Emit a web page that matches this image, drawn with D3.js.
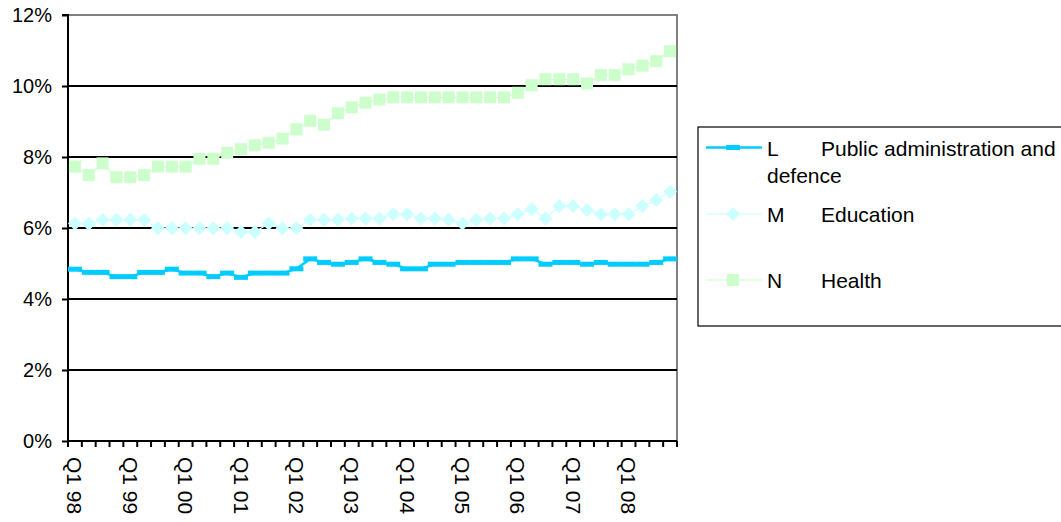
<!DOCTYPE html>
<html>
<head>
<meta charset="utf-8">
<script src="https://cdn.jsdelivr.net/npm/d3@7"></script>
<style>
  html, body { margin: 0; padding: 0; background: #fff; }
  svg { display: block; }
  text { font-family: "Liberation Sans", Arial, sans-serif; fill: #000; }
</style>
</head>
<body>
<svg id="chart" width="1061" height="522"></svg>
<script>
// Quarterly categories, Q1 1998 – Q4 2008
const quarters = [
  "Q1 98","Q2 98","Q3 98","Q4 98","Q1 99","Q2 99","Q3 99","Q4 99",
  "Q1 00","Q2 00","Q3 00","Q4 00","Q1 01","Q2 01","Q3 01","Q4 01",
  "Q1 02","Q2 02","Q3 02","Q4 02","Q1 03","Q2 03","Q3 03","Q4 03",
  "Q1 04","Q2 04","Q3 04","Q4 04","Q1 05","Q2 05","Q3 05","Q4 05",
  "Q1 06","Q2 06","Q3 06","Q4 06","Q1 07","Q2 07","Q3 07","Q4 07",
  "Q1 08","Q2 08","Q3 08","Q4 08"
];
const xTickLabels = ["Q1 98","Q1 99","Q1 00","Q1 01","Q1 02","Q1 03","Q1 04","Q1 05","Q1 06","Q1 07","Q1 08"];
const yTicks = [0, 2, 4, 6, 8, 10, 12];

// Shares, in percent
const publicAdmin = [
  4.84,4.75,4.75,4.63,4.63,4.75,4.75,4.84,4.73,4.73,
  4.63,4.73,4.61,4.73,4.73,4.73,4.85,5.13,5.03,4.98,
  5.03,5.13,5.03,4.98,4.85,4.85,4.98,4.98,5.03,5.03,
  5.03,5.03,5.13,5.13,4.98,5.03,5.03,4.98,5.03,4.98,
  4.98,4.98,5.03,5.13
];
const education = [
  6.13,6.12,6.23,6.23,6.23,6.23,5.99,5.99,5.99,5.99,
  5.99,5.99,5.89,5.89,6.13,5.99,5.99,6.23,6.23,6.23,
  6.27,6.27,6.27,6.39,6.39,6.27,6.27,6.23,6.13,6.23,
  6.27,6.27,6.39,6.53,6.27,6.62,6.62,6.51,6.39,6.39,
  6.39,6.62,6.79,7.02
];
const health = [
  7.73,7.49,7.82,7.43,7.43,7.49,7.73,7.73,7.73,7.95,
  7.95,8.12,8.22,8.33,8.40,8.52,8.78,9.02,8.91,9.23,
  9.40,9.53,9.62,9.68,9.68,9.68,9.68,9.68,9.68,9.68,
  9.68,9.68,9.81,10.02,10.19,10.19,10.19,10.07,10.31,10.31,
  10.47,10.57,10.70,10.98
];

const series = [
  { code: "L", name: "Public administration and", name2: "defence", values: publicAdmin, color: "#00CCFF", width: 2.5, marker: "dash" },
  { code: "M", name: "Education", values: education, color: "#CCFFFF", width: 1.2, marker: "diamond" },
  { code: "N", name: "Health", values: health, color: "#CCFFCC", width: 1.2, marker: "square" }
];

const svg = d3.select("#chart");
const plot = { left: 68, right: 677, top: 15, bottom: 441 };

const x = d3.scaleBand().domain(quarters).range([plot.left, plot.right]).padding(0);
const y = d3.scaleLinear().domain([0, 12]).range([plot.bottom, plot.top]);
const cx = q => x(q) + x.bandwidth() / 2;

// Plot area frame
svg.append("rect")
  .attr("x", plot.left).attr("y", plot.top)
  .attr("width", plot.right - plot.left).attr("height", plot.bottom - plot.top)
  .attr("fill", "none").attr("stroke", "#808080").attr("stroke-width", 2);

// Horizontal gridlines
svg.append("g").selectAll("line")
  .data(yTicks.filter(t => t > 0 && t < 12))
  .join("line")
  .attr("x1", plot.left).attr("x2", plot.right)
  .attr("y1", d => y(d)).attr("y2", d => y(d))
  .attr("stroke", "#000").attr("stroke-width", 1.8);

// Y axis
const yAxis = d3.axisLeft(y).tickValues(yTicks).tickSize(6).tickPadding(10)
  .tickFormat(d => d + "%");
const gy = svg.append("g").attr("transform", `translate(${plot.left},0)`).call(yAxis);
gy.select(".domain").attr("stroke", "#000").attr("stroke-width", 2).attr("d", `M-6,${plot.top}H0V${plot.bottom + 6}`);
gy.selectAll(".tick line").attr("stroke", "#000").attr("stroke-width", 2);
gy.selectAll(".tick text").style("font-size", "20px").style("font-family", "Liberation Sans, Arial, sans-serif").attr("fill", "#000");

// X axis: ticks at every category boundary, labels on Q1 only
const gx = svg.append("g");
gx.append("line")
  .attr("x1", plot.left).attr("x2", plot.right)
  .attr("y1", plot.bottom).attr("y2", plot.bottom)
  .attr("stroke", "#000").attr("stroke-width", 2);
const boundaries = quarters.map(q => x(q)).concat([x(quarters[quarters.length - 1]) + x.bandwidth()]);
gx.selectAll("line.tk").data(boundaries).join("line").attr("class", "tk")
  .attr("x1", d => d).attr("x2", d => d)
  .attr("y1", plot.bottom).attr("y2", plot.bottom + 6)
  .attr("stroke", "#000").attr("stroke-width", 2);
gx.selectAll("text").data(xTickLabels).join("text")
  .attr("transform", d => `translate(${cx(d)},${plot.bottom + 16}) rotate(90)`)
  .attr("dominant-baseline", "central")
  .attr("text-anchor", "start")
  .style("font-size", "21px")
  .text(d => d);

// Series lines and markers
const line = d3.line().x((d, i) => cx(quarters[i])).y(d => y(d));

function drawMarker(g, type, color, px, py) {
  if (type === "dash") {
    g.append("rect").attr("x", px - 7).attr("y", py - 2.5).attr("width", 14).attr("height", 5).attr("fill", color);
  } else if (type === "diamond") {
    const r = 7;
    g.append("path").attr("d", `M${px},${py - r}L${px + r},${py}L${px},${py + r}L${px - r},${py}Z`).attr("fill", color);
  } else {
    const s = 12;
    g.append("rect").attr("x", px - s / 2).attr("y", py - s / 2).attr("width", s).attr("height", s).attr("fill", color);
  }
}

series.forEach(s => {
  const g = svg.append("g");
  g.append("path").datum(s.values).attr("d", line)
    .attr("fill", "none").attr("stroke", s.color).attr("stroke-width", s.width);
  s.values.forEach((v, i) => drawMarker(g, s.marker, s.color, cx(quarters[i]), y(v)));
});

// Legend
const lg = svg.append("g");
lg.append("rect").attr("x", 698).attr("y", 127).attr("width", 380).attr("height", 199)
  .attr("fill", "#fff").attr("stroke", "#000").attr("stroke-width", 1.2);
const rows = [147.5, 214, 280];
series.forEach((s, i) => {
  const ry = rows[i];
  lg.append("line").attr("x1", 706).attr("x2", 762).attr("y1", ry).attr("y2", ry)
    .attr("stroke", s.color).attr("stroke-width", s.width);
  drawMarker(lg, s.marker, s.color, 733, ry);
  lg.append("text").attr("x", 767).attr("y", ry + 8).style("font-size", "21px").text(s.code);
  lg.append("text").attr("x", 821).attr("y", ry + 8).style("font-size", "21px").text(s.name);
  if (s.name2) {
    lg.append("text").attr("x", 767).attr("y", ry + 35.5).style("font-size", "21px").text(s.name2);
  }
});
</script>
</body>
</html>
